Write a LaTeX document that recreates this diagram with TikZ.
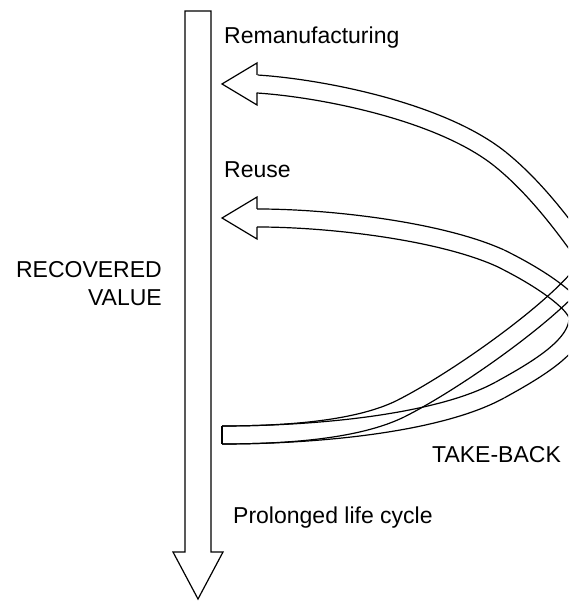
\documentclass[tikz,border=0pt]{standalone}
\usepackage{fontspec}
\setmainfont{Liberation Sans}
% one edge of a band: #1 = offset, #2..#9 = cubic Bezier control points of the centre line
\newcommand\bedge[9]{%
  \def\bA{(1-\t)}\def\bB{\t}%
  \def\bX{(\bA*\bA*\bA*#2+3*\bA*\bA*\bB*#4+3*\bA*\bB*\bB*#6+\bB*\bB*\bB*#8)}%
  \def\bY{(\bA*\bA*\bA*#3+3*\bA*\bA*\bB*#5+3*\bA*\bB*\bB*#7+\bB*\bB*\bB*#9)}%
  \def\bDX{((3*\bA*\bA*(#4-#2)+6*\bA*\bB*(#6-#4)+3*\bB*\bB*(#8-#6))/100)}%
  \def\bDY{((3*\bA*\bA*(#5-#3)+6*\bA*\bB*(#7-#5)+3*\bB*\bB*(#9-#7))/100)}%
  \draw[outline] plot[domain=0:1, samples=60, variable=\t]
    ({\bX-(#1)*\bDY/veclen(\bDX,\bDY)}, {\bY+(#1)*\bDX/veclen(\bDX,\bDY)});%
}
\newcommand\bandseg[8]{%
  \bedge{9}{#1}{#2}{#3}{#4}{#5}{#6}{#7}{#8}%
  \bedge{-9}{#1}{#2}{#3}{#4}{#5}{#6}{#7}{#8}%
}
\begin{document}
\begin{tikzpicture}[x=1pt,y=-1pt,
  outline/.style={draw=black, line width=1.2pt, line join=miter},
  lbl/.style={inner sep=0pt, font=\fontsize{23pt}{28pt}\selectfont}]
\useasboundingbox (0,0) rectangle (568,601);
\clip (0,0) rectangle (568,601);
\fill[white] (0,0) rectangle (568,601);
% main vertical arrow
\draw[outline] (185,11) -- (211,11) -- (211,552) -- (223,552) -- (198,599) -- (173,552) -- (185,552) -- cycle;
% remanufacturing band (tail -> head)
\bandseg{222}{435}{280}{435}{355}{431}{400}{409}
\bandseg{400}{409}{460}{379}{570}{300}{590}{262}
\bandseg{590}{262}{580}{250}{545}{195}{500}{159}
\bandseg{500}{159}{440}{111}{320}{88}{257}{84}
% reuse band (tail -> head)
\bandseg{222}{435}{320}{435}{440}{423}{500}{390}
\bandseg{500}{390}{540}{368}{578}{345}{578}{318}
\bandseg{578}{318}{578}{305}{545}{280}{500}{258}
\bandseg{500}{258}{440}{231}{330}{218}{257}{218}
% tail end and arrow heads
\coordinate (tailt) at (222,426);
\coordinate (tailb) at (222,444);
\draw[outline] (tailt) -- (tailb);
\draw[outline] (257,75) -- (257,63) -- (222,84) -- (257,105) -- (257,93);
\draw[outline] (257,209) -- (257,197) -- (222,218) -- (257,239) -- (257,227);
% labels
\node[lbl, anchor=base west] (remtxt) at (224,44) {Remanufacturing};
\node[lbl, anchor=base west] (reusetxt) at (224,178) {Reuse};
\node[lbl, anchor=base east] (rectxt) at (162,277) {RECOVERED};
\node[lbl, anchor=base east] (valtxt) at (162,305) {VALUE};
\node[lbl, anchor=base west] (taketxt) at (432,462) {TAKE-BACK};
\node[lbl, anchor=base west] (prolong) at (233,523) {Prolonged life cycle};
\end{tikzpicture}
\end{document}
